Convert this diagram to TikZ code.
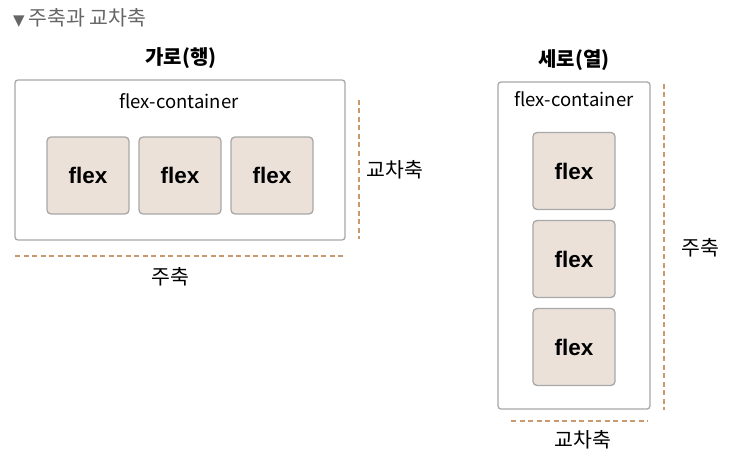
\documentclass[tikz,border=0pt]{standalone}
\usepackage{fontspec}
\setmainfont{Noto Sans CJK KR}
\newfontfamily\flexfont{Liberation Sans}
\definecolor{boxgray}{HTML}{A8A8A8}
\definecolor{flexfill}{HTML}{EBE1D8}
\definecolor{axiscol}{HTML}{C9996D}
\definecolor{headgray}{HTML}{666666}
\begin{document}
\begin{tikzpicture}[x=1pt,y=-1pt,
  container/.style={draw=boxgray,line width=1.3pt,rounded corners=3pt},
  flexbox/.style={draw=boxgray,fill=flexfill,line width=1.3pt,rounded corners=4pt,
     minimum width=82pt,minimum height=77pt,inner sep=0pt,
     font=\flexfont\bfseries\fontsize{22.5}{22.5}\selectfont},
  axisline/.style={draw=axiscol,line width=1.3pt,dash pattern=on 5pt off 3.5pt},
  lbl/.style={font=\fontsize{20.5}{20.5}\selectfont,inner sep=0pt},
  contlbl/.style={font=\fontsize{18.5}{18.5}\selectfont,inner sep=0pt},
  ttl/.style={font=\bfseries\fontsize{20}{20}\selectfont,inner sep=0pt}]
\useasboundingbox (0,0) rectangle (736,468);
% header
\node[anchor=west,inner sep=0pt,text=headgray,font=\fontsize{20.5}{20.5}\selectfont] (head) at (13,18) {{\fontspec{DejaVu Sans}\fontsize{15}{15}\selectfont ▼}\hspace{4pt}주축과 교차축};
% left: row
\node[ttl] (rowtitle) at (181,58) {가로(행)};
\draw[container] (15,80) rectangle (345,240);
\node[contlbl] (rowcont) at (179,101) {flex-container};
\node[flexbox] (r1) at (88,175.5) {flex};
\node[flexbox] (r2) at (180,175.5) {flex};
\node[flexbox] (r3) at (272,175.5) {flex};
\coordinate (rv1) at (359,100);
\coordinate (rv2) at (359,239);
\draw[axisline] (rv1) -- (rv2);
\node[lbl] (rowcross) at (395,170) {교차축};
\coordinate (rh1) at (15,256);
\coordinate (rh2) at (344,256);
\draw[axisline] (rh1) -- (rh2);
\node[lbl] (rowmain) at (170,277) {주축};
% right: column
\node[ttl] (coltitle) at (574,60) {세로(열)};
\draw[container] (498,82) rectangle (650,409);
\node[contlbl] (colcont) at (574,99) {flex-container};
\node[flexbox] (c1) at (574,171) {flex};
\node[flexbox] (c2) at (574,259) {flex};
\node[flexbox] (c3) at (574,347) {flex};
\coordinate (cv1) at (664,84);
\coordinate (cv2) at (664,410);
\draw[axisline] (cv1) -- (cv2);
\node[lbl] (colmain) at (700,248) {주축};
\coordinate (ch1) at (511,421);
\coordinate (ch2) at (648,421);
\draw[axisline] (ch1) -- (ch2);
\node[lbl] (colcross) at (583,440) {교차축};
\end{tikzpicture}
\end{document}
